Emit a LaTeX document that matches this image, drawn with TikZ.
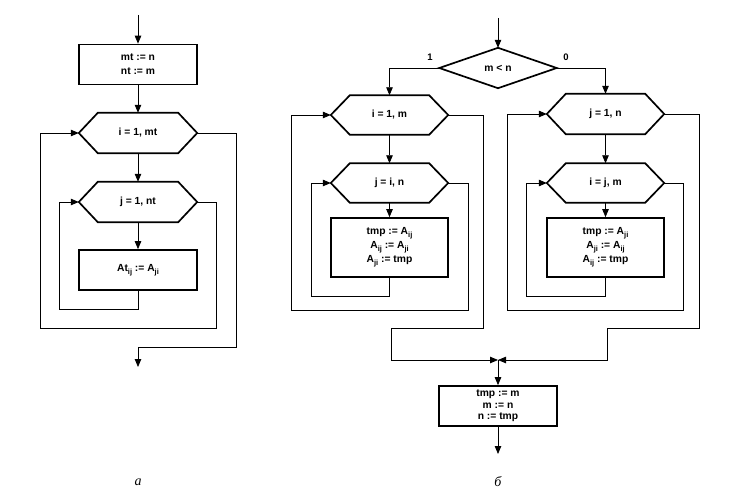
\documentclass[tikz,border=0pt]{standalone}
\usepackage{fontspec}
\setmainfont{Liberation Sans}
\newfontfamily\capfont{Liberation Serif}
\usetikzlibrary{arrows.meta,calc}
\newcommand{\ssub}[1]{\raisebox{-0.33em}{\fontsize{7.5}{7.5}\selectfont #1}}
\tikzset{
  lbl/.style={font=\bfseries\fontsize{10.3}{14}\selectfont, align=center},
  procbox/.style={lbl, draw, line width=1.7pt, minimum width=118pt, minimum height=40pt, inner sep=0pt},
  hexbox/.style={lbl, minimum width=118pt, minimum height=40pt, inner sep=0pt},
  hexline/.style={line width=1.7pt, line join=miter},
  conn/.style={line width=0.8pt},
  arr/.style={conn, -{Triangle[length=8pt,width=6.5pt]}},
  caption/.style={font=\capfont\itshape\fontsize{14}{14}\selectfont},
  edgelbl/.style={font=\bfseries\fontsize{9.5}{9.5}\selectfont}
}
\begin{document}
\begin{tikzpicture}[x=1pt,y=-1pt]
\useasboundingbox (0,0) rectangle (744,497);
% ---------- diagram a ----------
\coordinate (a0) at (138,15);
\node[procbox] (a1) at (138,64.5) {mt := n\\nt := m};
\node[hexbox] (a2) at (138,133) {i = 1, mt};
\node[hexbox] (a3) at (138,202) {j = 1, nt};
\node[procbox] (a4) at (138,270) {At\ssub{ij} := A\ssub{ji}};
\coordinate (aend) at (138,367);
\node[caption] (acap) at (138,482) {а};
% ---------- diagram b ----------
\coordinate (b0) at (498,18);
\node[hexbox, minimum width=117pt] (dd) at (498,68) {m < n};
\node[edgelbl] (one) at (430,57) {1};
\node[edgelbl] (zero) at (566,57) {0};
\node[hexbox, minimum width=117pt, minimum height=39pt] (l1) at (389.5,115) {i = 1, m};
\node[hexbox, minimum width=117pt, minimum height=39pt] (l2) at (389.5,183) {j = i, n};
\node[procbox, minimum width=117pt, minimum height=59pt] (l3) at (389.5,247.5) {tmp := A\ssub{ij}\\A\ssub{ij} := A\ssub{ji}\\A\ssub{ji} := tmp};
\node[hexbox, minimum width=117pt] (r1) at (605.5,114) {j = 1, n};
\node[hexbox, minimum width=117pt, minimum height=39pt] (r2) at (605.5,183) {i = j, m};
\node[procbox, minimum width=117pt, minimum height=59pt] (r3) at (605.5,247.5) {tmp := A\ssub{ji}\\A\ssub{ji} := A\ssub{ij}\\A\ssub{ij} := tmp};
\coordinate (mj) at (498,360);
\node[procbox, font=\bfseries\fontsize{10.3}{11.5}\selectfont] (f) at (498,406) {tmp := m\\m := n\\n := tmp};
\coordinate (fend) at (498,454);
\node[caption] (bcap) at (498,482) {б};
% hexagon outlines
\foreach \h in {a2,a3,l1,l2,r1,r2}{
  \draw[hexline] ([xshift=19pt]\h.north west) -- ([xshift=-19pt]\h.north east) -- (\h.east)
    -- ([xshift=-19pt]\h.south east) -- ([xshift=19pt]\h.south west) -- (\h.west) -- cycle;
}
% diamond outline
\draw[hexline] (dd.north) -- (dd.east) -- (dd.south) -- (dd.west) -- cycle;
% ---------- connectors a ----------
\draw[arr] (a0) -- (a1.north);
\draw[arr] (a1.south) -- (a2.north);
\draw[arr] (a2.south) -- (a3.north);
\draw[arr] (a3.south) -- (a4.north);
\draw[arr] (a4.south) -- ++(0,19) -| ([xshift=-19pt]a3.west) -- (a3.west);
\draw[arr] (a3.east) -- ++(19,0) -- ++(0,126) -| ([xshift=-38pt]a2.west) -- (a2.west);
\draw[arr] (a2.east) -- ++(39,0) -- ++(0,214) -| (aend);
% ---------- connectors b ----------
\draw[arr] (b0) -- (dd.north);
\draw[arr] (dd.west) -| (l1.north);
\draw[arr] (dd.east) -| (r1.north);
\draw[arr] (l1.south) -- (l2.north);
\draw[arr] (l2.south) -- (l3.north);
\draw[arr] (l3.south) -- ++(0,19) -| ([xshift=-19pt]l2.west) -- (l2.west);
\draw[arr] (l2.east) -- ++(20,0) -- ++(0,127) -| ([xshift=-39pt]l1.west) -- (l1.west);
\draw[arr] (r1.south) -- (r2.north);
\draw[arr] (r2.south) -- (r3.north);
\draw[arr] (r3.south) -- ++(0,19) -| ([xshift=-20pt]r2.west) -- (r2.west);
\draw[arr] (r2.east) -- ++(19,0) -- ++(0,127) -| ([xshift=-39pt]r1.west) -- (r1.west);
\draw[arr] (l1.east) -- ++(35,0) -- ++(0,213) -- ++(-92,0) |- (mj);
\draw[arr] (r1.east) -- ++(35,0) -- ++(0,214) -- ++(-92,0) |- (mj);
\draw[arr] (mj) -- (f.north);
\draw[arr] (f.south) -- (fend);
\end{tikzpicture}
\end{document}
